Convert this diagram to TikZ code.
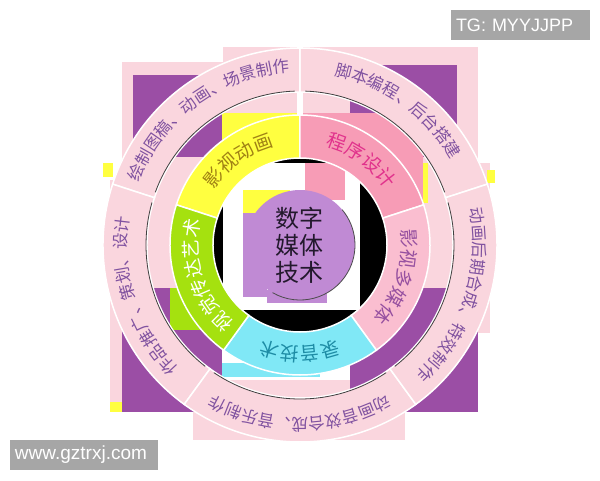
\documentclass[tikz,border=0pt]{standalone}
\usepackage{fontspec}
\newfontfamily\cjk{Noto Sans CJK SC}
\newfontfamily\wmfont{Liberation Sans}
\usetikzlibrary{decorations.text}

\definecolor{ringpink}{RGB}{250,214,222}
\definecolor{boxpurple}{RGB}{155,78,165}
\definecolor{outertext}{RGB}{128,82,160}
\definecolor{segyellow}{RGB}{255,255,64}
\definecolor{segrose}{RGB}{247,156,182}
\definecolor{segpink}{RGB}{250,190,208}
\definecolor{segcyan}{RGB}{128,232,246}
\definecolor{seggreen}{RGB}{165,225,15}
\definecolor{corelilac}{RGB}{192,138,212}
\definecolor{wmgray}{RGB}{166,166,166}

% ring segment: start, end, inner r, outer r, style
\newcommand{\ringseg}[5]{%
  \filldraw[#5] (#1:#4) arc[start angle=#1,end angle=#2,radius=#4]
    -- (#2:#3) arc[start angle=#2,end angle=#1,radius=#3] -- cycle;}
% clockwise text: start, end, radius, colour, text
\newcommand{\arctext}[5]{%
  \path[decorate,decoration={text along path,text align=center,
    text color=#4,text={#5}}]
    (#1:#3) arc[start angle=#1,end angle=#2,radius=#3];}

\tikzset{
  outerseg/.style={fill=ringpink,draw=white,line width=1.5pt},
  innerseg/.style={draw=white,line width=1.5pt},
  wmbox/.style={fill=wmgray,text=white,inner xsep=5pt,inner ysep=0pt,
    minimum height=30pt,align=left,font=\wmfont\fontsize{18}{18}\selectfont},
}

\begin{document}
\begin{tikzpicture}[x=1pt,y=1pt]
  \useasboundingbox (-300,-235) rectangle (300,245);
  \fill[white] (-300,-235) rectangle (300,245);

  % background squares (pixel coordinates)
  \begin{scope}[shift={(-300,245)},yscale=-1]
    \fill[ringpink] (122,62) rectangle (223,288);
    \fill[ringpink] (223,47) rectangle (297,163);
    \fill[ringpink] (303,47) rectangle (478,288);
    \fill[ringpink] (110,180) rectangle (122,412);
    \fill[ringpink] (193,380) rectangle (405,440);
    \fill[ringpink] (472,163) rectangle (490,333);
    \fill[boxpurple] (133,75) rectangle (222,157);
    \fill[boxpurple] (350,65) rectangle (457,157);
    \fill[boxpurple] (122,288) rectangle (222,412);
    \fill[boxpurple] (350,288) rectangle (478,412);
    \fill[boxpurple] (297,60) rectangle (303,87);
    \fill[segyellow] (222,113) rectangle (297,200);
    \fill[segyellow] (103,163) rectangle (113,177);
    \fill[segyellow] (110,402) rectangle (122,412);
    \fill[segyellow] (487,170) rectangle (495,183);
    \fill[segyellow] (423,163) rectangle (428,203);
    \fill[segrose] (303,113) rectangle (423,230);
    \fill[seggreen] (170,288) rectangle (243,330);
    \fill[segcyan] (222,363) rectangle (320,377);
  \end{scope}

  % black hole round the core
  \fill[black] (0,0) circle[radius=90];
  \begin{scope}
    \clip (0,0) circle[radius=90];
    \begin{scope}[shift={(-300,245)},yscale=-1]
      \fill[white] (223,163) rectangle (360,310);
      \fill[segyellow] (243,190) rectangle (290,213);
      \fill[segrose] (305,163) rectangle (345,200);
      \fill[corelilac] (243,213) rectangle (267,297);
      \fill[corelilac] (267,290) rectangle (327,303);
    \end{scope}
  \end{scope}

  % outer ring
  \foreach \a in {18,90,162,234,306}{
    \pgfmathsetmacro{\b}{\a+72}
    \ringseg{\a}{\b}{153}{197}{outerseg}
    \draw[black!75,line width=0.8pt] (\a+2:154) arc[start angle=\a+2,end angle=\b-2,radius=154];
  }

  % inner ring
  \ringseg{90}{162}{87}{130}{innerseg,fill=segyellow}
  \ringseg{18}{90}{87}{130}{innerseg,fill=segrose}
  \ringseg{-54}{18}{87}{130}{innerseg,fill=segpink}
  \ringseg{-126}{-54}{87}{130}{innerseg,fill=segcyan}
  \ringseg{162}{234}{87}{130}{innerseg,fill=seggreen}

  % core
  \node[circle,fill=corelilac,minimum size=110pt,inner sep=0pt,align=center,
    text={rgb,255:red,35;green,25;blue,45},
    font=\cjk\fontsize{24}{27}\selectfont] (core) at (0,0) {数字\\媒体\\技术};
  \draw[black!70,line width=0.8pt] (-120:55) arc[start angle=-120,end angle=40,radius=55];

  % outer labels
  \arctext{162}{90}{173}{outertext}{|\cjk\fontsize{16.5}{16.5}\selectfont|绘制图稿、动画、场景制作}
  \arctext{90}{18}{173}{outertext}{|\cjk\fontsize{16.5}{16.5}\selectfont|脚本编程、后台搭建}
  \arctext{18}{-54}{173}{outertext}{|\cjk\fontsize{16.5}{16.5}\selectfont|动画后期合成、特效制作}
  \arctext{-54}{-126}{173}{outertext}{|\cjk\fontsize{16.5}{16.5}\selectfont|动画音效合成、音乐制作}
  \arctext{234}{162}{173}{outertext}{|\cjk\fontsize{16.5}{16.5}\selectfont|作品推广、策划、设计}

  % inner labels
  \arctext{162}{90}{102}{{rgb,255:red,160;green,130;blue,20}}{|\cjk\fontsize{19}{19}\selectfont|影视动画}
  \arctext{90}{18}{102}{{rgb,255:red,225;green,50;blue,140}}{|\cjk\fontsize{19}{19}\selectfont|程序设计}
  \arctext{18}{-54}{102}{{rgb,255:red,150;green,80;blue,160}}{|\cjk\fontsize{19}{19}\selectfont|影视多媒体}
  \arctext{-54}{-126}{102}{{rgb,255:red,30;green,140;blue,165}}{|\cjk\fontsize{19}{19}\selectfont|录音技术}
  \arctext{234}{162}{102}{white}{|\cjk\fontsize{19}{19}\selectfont|视觉传达艺术}

  % watermarks
  \node[wmbox,text width=129pt] (tg) at (220.5,220) {TG: MYYJJPP};
  \node[wmbox,text width=138pt,font=\wmfont\fontsize{19}{19}\selectfont] (site) at (-216,-210) {www.gztrxj.com};
\end{tikzpicture}
\end{document}
